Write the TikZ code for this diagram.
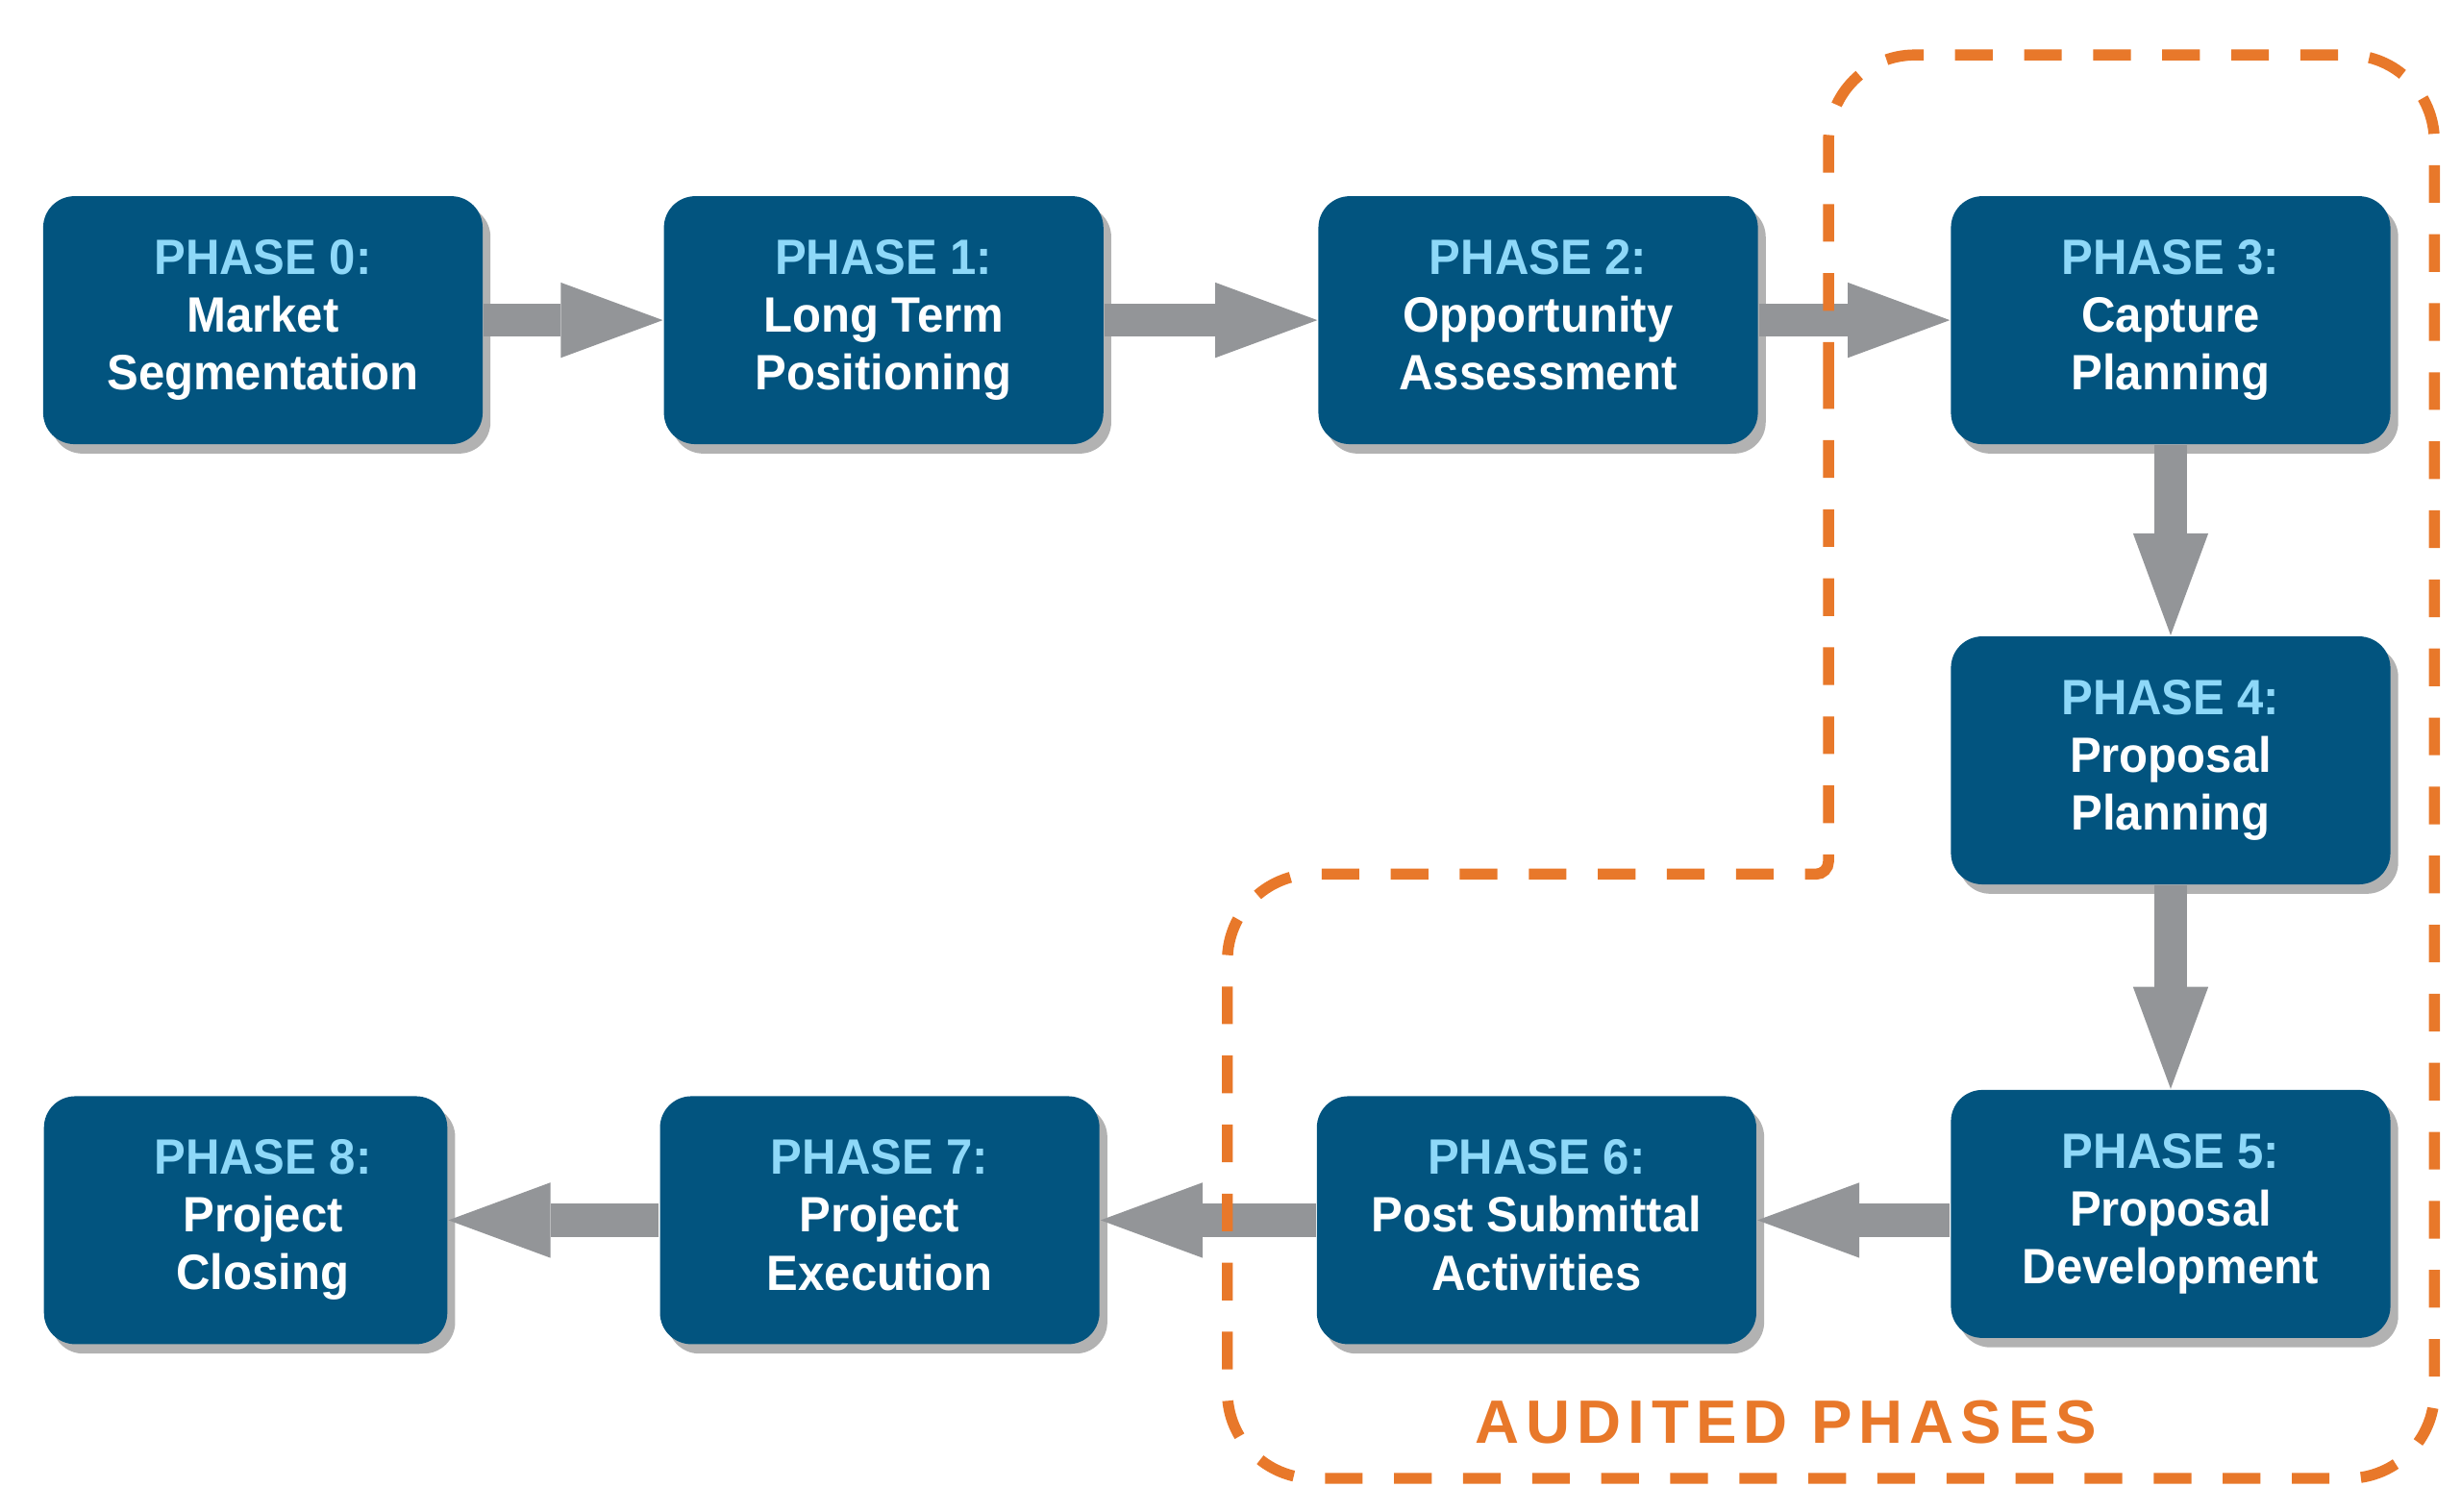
\documentclass[tikz,border=0pt]{standalone}
\usepackage{fontspec}
\usepackage{tikz}
\usetikzlibrary{arrows.meta,shadows}

\newfontfamily\boxfont[FakeStretch=0.95]{Liberation Sans}
\newfontfamily\auditfont[LetterSpace=11]{Liberation Sans}

\definecolor{boxblue}{HTML}{02547F}
\definecolor{phaseblue}{HTML}{8ED8F8}
\definecolor{arrowgray}{HTML}{939598}
\definecolor{auditorange}{HTML}{E8782A}

\newcommand{\phaselabel}[2]{\textcolor{phaseblue}{PHASE #1:}\\#2\vphantom{g}}

\begin{document}
\begin{tikzpicture}[
    phasebox/.style={draw=none, fill=boxblue, rounded corners=0.2cm,
      minimum width=2.8cm, minimum height=1.58cm, align=center,
      text=white, font=\boxfont\bfseries\fontsize{9pt}{10.5pt}\selectfont,
      drop shadow={shadow xshift=0.05cm, shadow yshift=-0.06cm,
        fill=black, opacity=0.3}},
    flow/.style={draw=arrowgray, line width=0.21cm,
      -{Triangle[length=0.65cm, width=0.48cm, line width=0pt]}},
    audit/.style={draw=auditorange, line width=2pt,
      dash pattern=on 0.24cm off 0.2cm}
  ]
  \useasboundingbox (0,0) rectangle (15.68,-9.63);

  \node[phasebox] (P0) at ( 1.675, -2.04) {\phaselabel{0}{Market\\Segmentation}};
  \node[phasebox] (P1) at ( 5.63,  -2.04) {\phaselabel{1}{Long Term\\Positioning}};
  \node[phasebox] (P2) at ( 9.80,  -2.04) {\phaselabel{2}{Opportunity\\Assessment}};
  \node[phasebox] (P3) at (13.83,  -2.04) {\phaselabel{3}{Capture\\Planning}};
  \node[phasebox] (P4) at (13.83,  -4.845) {\phaselabel{4}{Proposal\\Planning}};
  \node[phasebox] (P5) at (13.83,  -7.735) {\phaselabel{5}{Proposal\\Development}};
  \node[phasebox] (P6) at ( 9.79,  -7.775) {\phaselabel{6}{Post Submittal\\Activities}};
  \node[phasebox] (P7) at ( 5.605, -7.775) {\phaselabel{7}{Project\\Execution}};
  \node[phasebox, minimum width=2.57cm] (P8) at ( 1.565, -7.775)
    {\hspace*{0.22cm}\begin{tabular}{@{}c@{}}\phaselabel{8}{Project\\Closing}\end{tabular}};

  \draw[flow] (P0) -- (P1);
  \draw[flow] (P1) -- (P2);
  \draw[flow] (P2) -- (P3);
  \draw[flow] (P3) -- (P4);
  \draw[flow] (P4) -- (P5);
  \draw[flow] (P6.east -| P5.west) -- (P6.east);
  \draw[flow] (P6) -- (P7);
  \draw[flow] (P7) -- (P8);

  % audited region
  \draw[audit, rounded corners=0.55cm] (11.65,-2.5) -- (11.65,-0.35)
    -- (15.51,-0.35) -- (15.51,-9.42) -- (7.82,-9.42) -- (7.82,-5.57)
    [rounded corners=0.08cm] -- (11.65,-5.57) -- cycle;
  \node[text=auditorange, font=\auditfont\bfseries\fontsize{11.1pt}{13pt}\selectfont]
    (audited) at (11.38,-9.06) {AUDITED PHASES};
\end{tikzpicture}
\end{document}
